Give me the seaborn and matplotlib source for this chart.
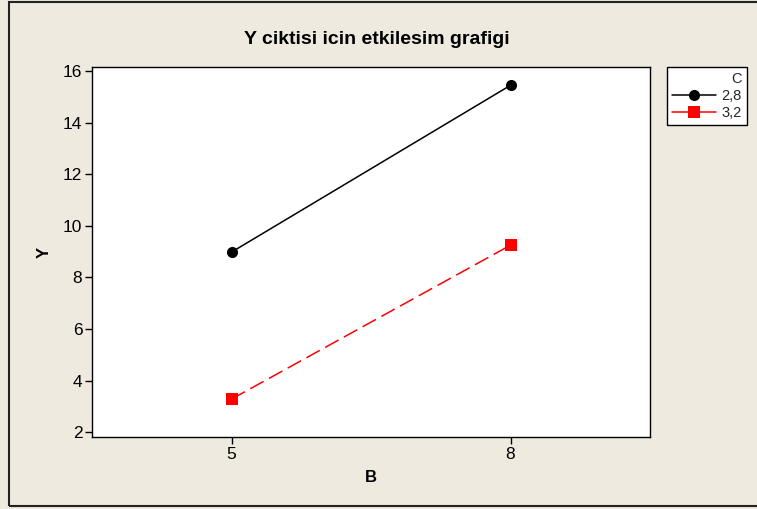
import matplotlib
matplotlib.use("Agg")
import matplotlib.pyplot as plt
from matplotlib.patches import Rectangle
from matplotlib.lines import Line2D
import seaborn as sns
import pandas as pd

# Interaction plot data: mean response Y for each level of B, split by C
b_levels = [5, 8]
c_levels = ["2,8", "3,2"]
y_c28 = [8.98, 15.45]
y_c32 = [3.28, 9.25]

df = pd.DataFrame({
    "B": b_levels + b_levels,
    "Y": y_c28 + y_c32,
    "C": [c_levels[0]] * 2 + [c_levels[1]] * 2,
})

sns.set_theme(style="white")
plt.rcParams["font.family"] = ["Liberation Sans", "DejaVu Sans"]

bg = "#EEEAE0"
fig = plt.figure(figsize=(7.57, 5.09), dpi=100, facecolor=bg)
ax = fig.add_axes([92 / 757, 1 - 437 / 509, (650 - 92) / 757, (437 - 67) / 509])
ax.set_facecolor("white")

sns.lineplot(
    data=df, x="B", y="Y", hue="C", style="C", ax=ax,
    palette={"2,8": "black", "3,2": "red"},
    markers={"2,8": "o", "3,2": "s"},
    dashes={"2,8": "", "3,2": (10, 4)},
    markersize=8, linewidth=1.1, markeredgewidth=0, legend=False,
)

ax.set_xlim(3.5, 9.5)
ax.set_ylim(1.81, 16.16)
ax.set_xticks(b_levels)
ax.set_yticks([2, 4, 6, 8, 10, 12, 14, 16])
ax.tick_params(axis="both", which="major", direction="out", length=5, width=1,
               color="black", labelsize=12.5, labelcolor="black", pad=2,
               left=True, bottom=True)
for sp in ax.spines.values():
    sp.set_color("black")
    sp.set_linewidth(1.0)

ax.set_xlabel("B", fontsize=12, fontweight="bold", color="black", labelpad=6)
ax.set_ylabel("Y", fontsize=12, fontweight="bold", color="black", labelpad=8)

fig.text(0.5 * (92 + 650) / 757 + 0.008, 1 - 40 / 509, "Y ciktisi icin etkilesim grafigi",
         ha="center", va="center", fontsize=14, fontweight="bold", color="black")

legend_handles = [
    Line2D([], [], color="black", marker="o", markersize=8, markeredgewidth=0, linewidth=1.1),
    Line2D([], [], color="red", marker="s", markersize=8, markeredgewidth=0, linewidth=1.1),
]
leg = fig.legend(legend_handles, c_levels, title="C", loc="upper left",
                 bbox_to_anchor=(667 / 757, 1 - 67 / 509), borderaxespad=0,
                 frameon=True, fancybox=False, edgecolor="black", facecolor="white",
                 framealpha=1, fontsize=10.5, title_fontsize=10.5, handlelength=3.0,
                 labelspacing=0.2, borderpad=0.35, handletextpad=0.4,
                 alignment="right")
leg.get_frame().set_linewidth(1.0)

# outer frame around the figure
fig.patches.append(Rectangle((9 / 757, 3 / 509), 1.0, 504 / 509, transform=fig.transFigure,
                             fill=False, edgecolor="#222222", linewidth=1.5))

fig.savefig("out.png", dpi=100, facecolor=bg)
